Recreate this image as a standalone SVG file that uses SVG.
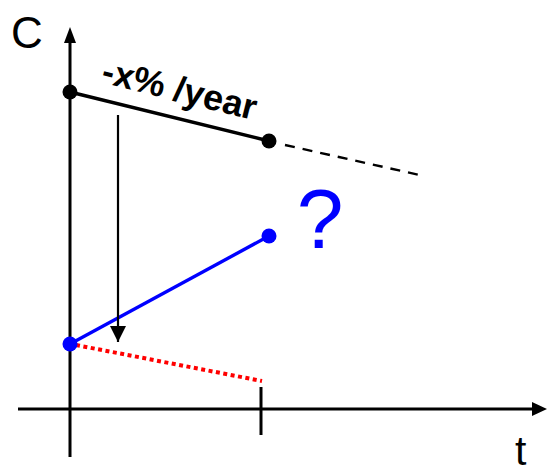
<svg xmlns="http://www.w3.org/2000/svg" width="547" height="470" viewBox="0 0 547 470">
<style>
.ax{stroke:#000;stroke-width:3;fill:none}
.lbl{font-family:"Liberation Sans",Arial,sans-serif}
</style>
<defs>
<marker id="ah" markerUnits="userSpaceOnUse" markerWidth="16" markerHeight="16" refX="16" refY="8" orient="auto"><path d="M0,0 L16,8 L0,16 Z" fill="#000"/></marker>
</defs>
<rect width="547" height="470" fill="#fff"/>
<g id="axes">
<line class="ax" x1="70" y1="457" x2="70" y2="42"/>
<path d="M70,27 L64,43 L76,43 Z" fill="#000"/>
<line class="ax" x1="18" y1="409" x2="533" y2="409"/>
<path d="M547,409 L532,402 L532,416 Z" fill="#000"/>
<line class="ax" x1="261" y1="387" x2="261" y2="435"/>
<text class="lbl" x="11" y="48" font-size="44">C</text>
<text class="lbl" x="515" y="465" font-size="41">t</text>
</g>
<g id="connectors">
<line x1="70" y1="92" x2="269" y2="141" stroke="#000" stroke-width="3.4"/>
<line x1="285" y1="145" x2="424" y2="176" stroke="#000" stroke-width="2.4" stroke-dasharray="10 8"/>
<line x1="70" y1="344" x2="269" y2="236" stroke="#0000ff" stroke-width="3.4"/>
<line x1="76" y1="345" x2="262" y2="381" stroke="#ff0000" stroke-width="4" stroke-dasharray="4 3.5"/>
<line x1="118" y1="115" x2="118" y2="342" stroke="#000" stroke-width="2.2" marker-end="url(#ah)"/>
</g>
<g id="node-start-black"><circle cx="70" cy="92" r="7.5" fill="#000"/></g>
<g id="node-end-black"><circle cx="269" cy="141" r="7.5" fill="#000"/></g>
<g id="node-start-blue"><circle cx="70" cy="344" r="7.5" fill="#0000ff"/></g>
<g id="node-end-blue"><circle cx="269" cy="236" r="7.5" fill="#0000ff"/></g>
<g id="labels">
<text class="lbl" x="100" y="82" font-size="36" font-weight="bold" transform="rotate(14 100 82)">-x% /year</text>
<text class="lbl" x="320" y="248" font-size="84" fill="#0000ff" text-anchor="middle">?</text>
</g>
</svg>
